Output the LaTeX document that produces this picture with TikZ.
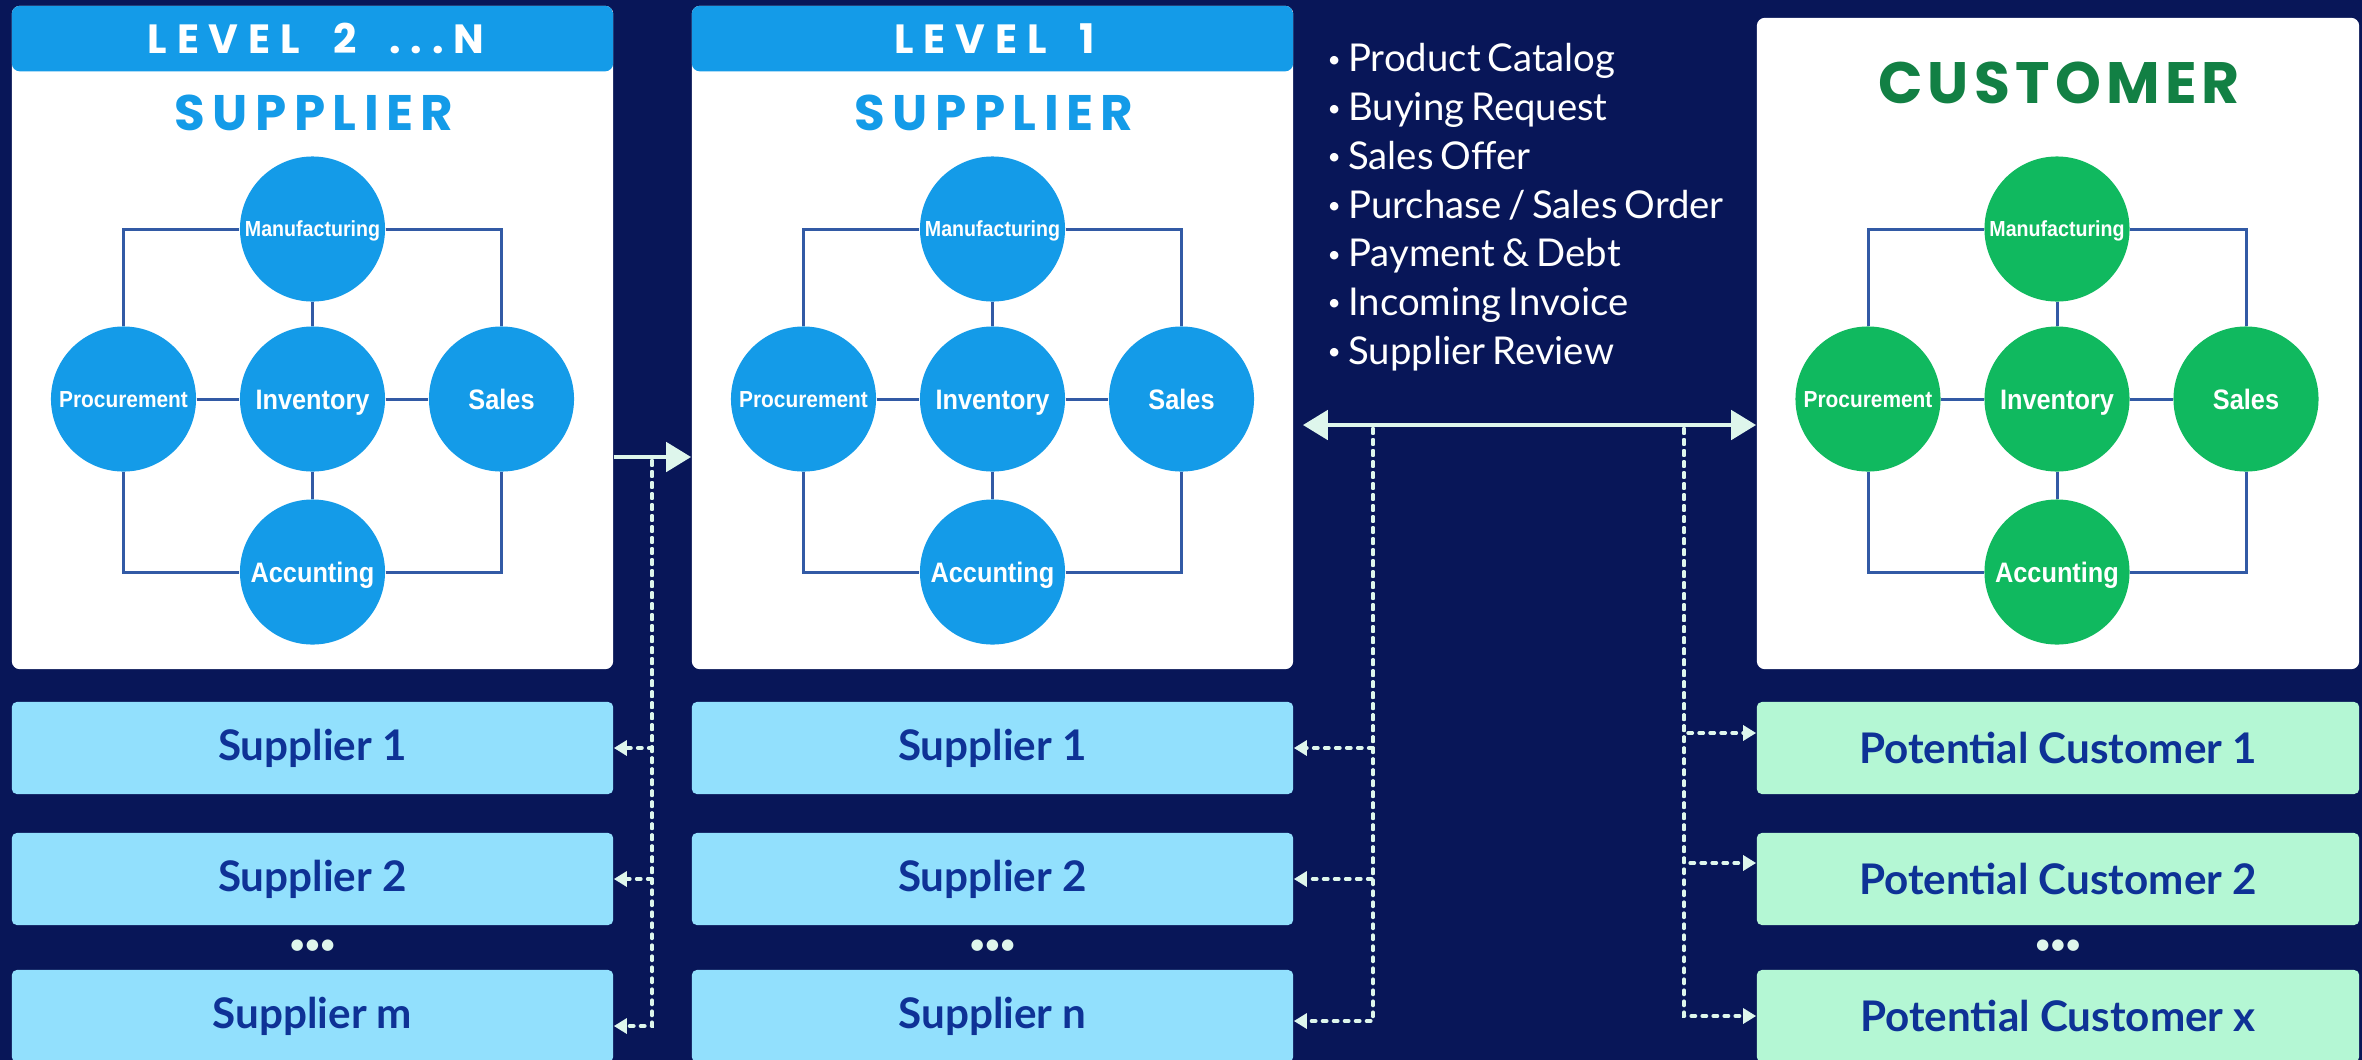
\documentclass[tikz,border=0pt]{standalone}
\usepackage{fontspec}
\setmainfont{Lato}
\newfontfamily\titlefont{Poppins}
\newfontfamily\levelfont{Poppins}[LetterSpace=24,WordSpace=1.8]
\newfontfamily\circfont{Liberation Sans}[FakeStretch=0.9]
\newfontfamily\listfont{Lato}[WordSpace=0.7]
\usepackage{xcolor}
\usetikzlibrary{arrows.meta,positioning,calc}

\definecolor{bgnavy}{RGB}{8,22,88}
\definecolor{supblue}{RGB}{20,155,232}
\definecolor{custgreen}{RGB}{16,185,95}
\definecolor{custdark}{RGB}{18,128,68}
\definecolor{supbox}{RGB}{146,224,253}
\definecolor{custbox}{RGB}{180,247,212}
\definecolor{boxtext}{RGB}{14,50,150}
\definecolor{linkblue}{RGB}{50,90,165}
\definecolor{mint}{RGB}{222,246,236}

\newcommand{\docbullet}{{\fontsize{6.5}{7}\selectfont\raisebox{0.2em}{\textbullet}}\hspace{0.19em}}

\tikzset{
  panel/.style={fill=white, rounded corners=0.08cm, minimum width=6.01cm, minimum height=6.63cm, inner sep=0pt},
  hdrpanel/.style={panel, path picture={\fill[supblue] (path picture bounding box.north west) rectangle ([yshift=-0.655cm]path picture bounding box.north east);}},
  leveltext/.style={text=white, anchor=base, inner sep=0pt, font=\levelfont\bfseries\fontsize{11.6}{13}\selectfont},
  bigtitle/.style={text=#1, anchor=base, inner sep=0pt, font=\titlefont\bfseries\fontsize{14.2}{16}\selectfont\addfontfeature{LetterSpace=15}},
  dept/.style={circle, fill=#1, minimum size=1.45cm, inner sep=0pt, text=white, text height=5.75pt, text depth=0pt, font=\circfont\bfseries\fontsize{8}{9}\selectfont},
  smalldept/.style={dept=#1, text height=4.5pt, font=\circfont\bfseries\fontsize{6.2}{7}\selectfont},
  link/.style={draw=linkblue, line width=0.85pt},
  supcell/.style={fill=supbox, rounded corners=0.05cm, minimum width=6.01cm, minimum height=0.92cm, text=boxtext, font=\bfseries\fontsize{12}{13}\selectfont},
  custcell/.style={supcell, fill=custbox},
  moredots/.style={text=mint, font=\bfseries\fontsize{7.5}{8}\selectfont},
  flow/.style={draw=mint, line width=1.4pt, >={Triangle[length=0.25cm,width=0.29cm]}},
  dotline/.style={draw=mint, line width=1.1pt, line cap=round, dash pattern=on 0.04cm off 0.07cm, -{Triangle[length=0.13cm,width=0.15cm]}}
}

\begin{document}
\begin{tikzpicture}[x=0.01cm,y=-0.01cm]
\fill[bgnavy] (0,0) rectangle (2362,1060);
\useasboundingbox (0,0) rectangle (2362,1060);

% three main panels
\node[hdrpanel] (p1) at (312.5,337.5) {};
\node[hdrpanel] (p2) at (992.5,337.5) {};
\node[panel, minimum height=6.51cm, minimum width=6.02cm] (p3) at (2058,343.5) {};

\node[leveltext] (lv1) at (316,53) {LEVEL 2 ...N};
\node[leveltext] (lv2) at (995,53) {LEVEL 1};
\node[bigtitle=supblue] (t1) at (314,130) {SUPPLIER};
\node[bigtitle=supblue] (t2) at (994,130) {SUPPLIER};
\node[bigtitle=custdark, font=\titlefont\bfseries\fontsize{16.6}{18}\selectfont\addfontfeature{LetterSpace=9}] (t3) at (2059,103) {CUSTOMER};

% departments inside each panel
\foreach \p/\cx/\col in {a/312.5/supblue, b/992.5/supblue, c/2057/custgreen}{
  \node[smalldept=\col] (\p-man) at (\cx,229) {Manufacturing};
  \node[smalldept=\col, text height=4.75pt, font=\circfont\bfseries\fontsize{6.6}{7}\selectfont] (\p-pro) at (\cx-189,399) {Procurement};
  \node[dept=\col] (\p-inv) at (\cx,399) {Inventory};
  \node[dept=\col] (\p-sal) at (\cx+189,399) {Sales};
  \node[dept=\col] (\p-acc) at (\cx,572) {Accunting};
  \draw[link] (\p-pro) |- (\p-man);
  \draw[link] (\p-man) -| (\p-sal);
  \draw[link] (\p-pro) |- (\p-acc);
  \draw[link] (\p-acc) -| (\p-sal);
  \draw[link] (\p-pro) -- (\p-inv);
  \draw[link] (\p-inv) -- (\p-sal);
  \draw[link] (\p-man) -- (\p-inv);
  \draw[link] (\p-inv) -- (\p-acc);
}

% exchanged documents
\node[anchor=north west, align=left, inner sep=0pt, text=white, font=\listfont\fontsize{10.9}{13.85}\selectfont] (docs) at (1327,43)
  {\docbullet Product Catalog\\ \docbullet Buying Request\\ \docbullet Sales Offer\\ \docbullet Purchase / Sales Order\\
   \docbullet Payment \& Debt\\ \docbullet Incoming Invoice\\ \docbullet Supplier Review};

% partner lists
\node[supcell] (s11) at (312.5,748) {Supplier 1};
\node[supcell] (s12) at (312.5,879) {Supplier 2};
\node[moredots] (d1) at (312.5,947) {\textbullet\textbullet\textbullet};
\node[supcell] (s13) at (312.5,1016) {Supplier m};

\node[supcell] (s21) at (992.5,748) {Supplier 1};
\node[supcell] (s22) at (992.5,879) {Supplier 2};
\node[moredots] (d2) at (992.5,947) {\textbullet\textbullet\textbullet};
\node[supcell] (s23) at (992.5,1016) {Supplier n};

\node[custcell, minimum width=6.02cm] (c1) at (2058,748) {Potential Customer 1};
\node[custcell, minimum width=6.02cm] (c2) at (2058,879) {Potential Customer 2};
\node[moredots] (d3) at (2058,947) {\textbullet\textbullet\textbullet};
\node[custcell, minimum width=6.02cm] (c3) at (2058,1016) {Potential Customer x};

% flows
\coordinate (j1) at (652,457);
\coordinate (j2) at (1373,425);
\coordinate (j3) at (1684,425);
\draw[flow,->] (p1.east |- j1) -- (p2.west |- j1);
\draw[flow,<->,shorten <=0.09cm] (p2.east |- j2) -- (p3.west |- j2);

\draw[dotline] ([yshift=-0.04cm]j1) |- (s11.east);
\draw[dotline] ([yshift=-0.04cm]j1) |- (s12.east);
\draw[dotline] ([yshift=-0.04cm]j1) |- ([yshift=-0.1cm]s13.east);
\draw[dotline] ([yshift=-0.04cm]j2) |- (s21.east);
\draw[dotline] ([yshift=-0.04cm]j2) |- (s22.east);
\draw[dotline] ([yshift=-0.04cm]j2) |- ([yshift=-0.05cm]s23.east);
\draw[dotline] ([yshift=-0.04cm]j3) |- ([yshift=0.15cm]c1.west);
\draw[dotline] ([yshift=-0.04cm]j3) |- ([yshift=0.16cm]c2.west);
\draw[dotline] ([yshift=-0.04cm]j3) |- (c3.west);
\end{tikzpicture}
\end{document}
